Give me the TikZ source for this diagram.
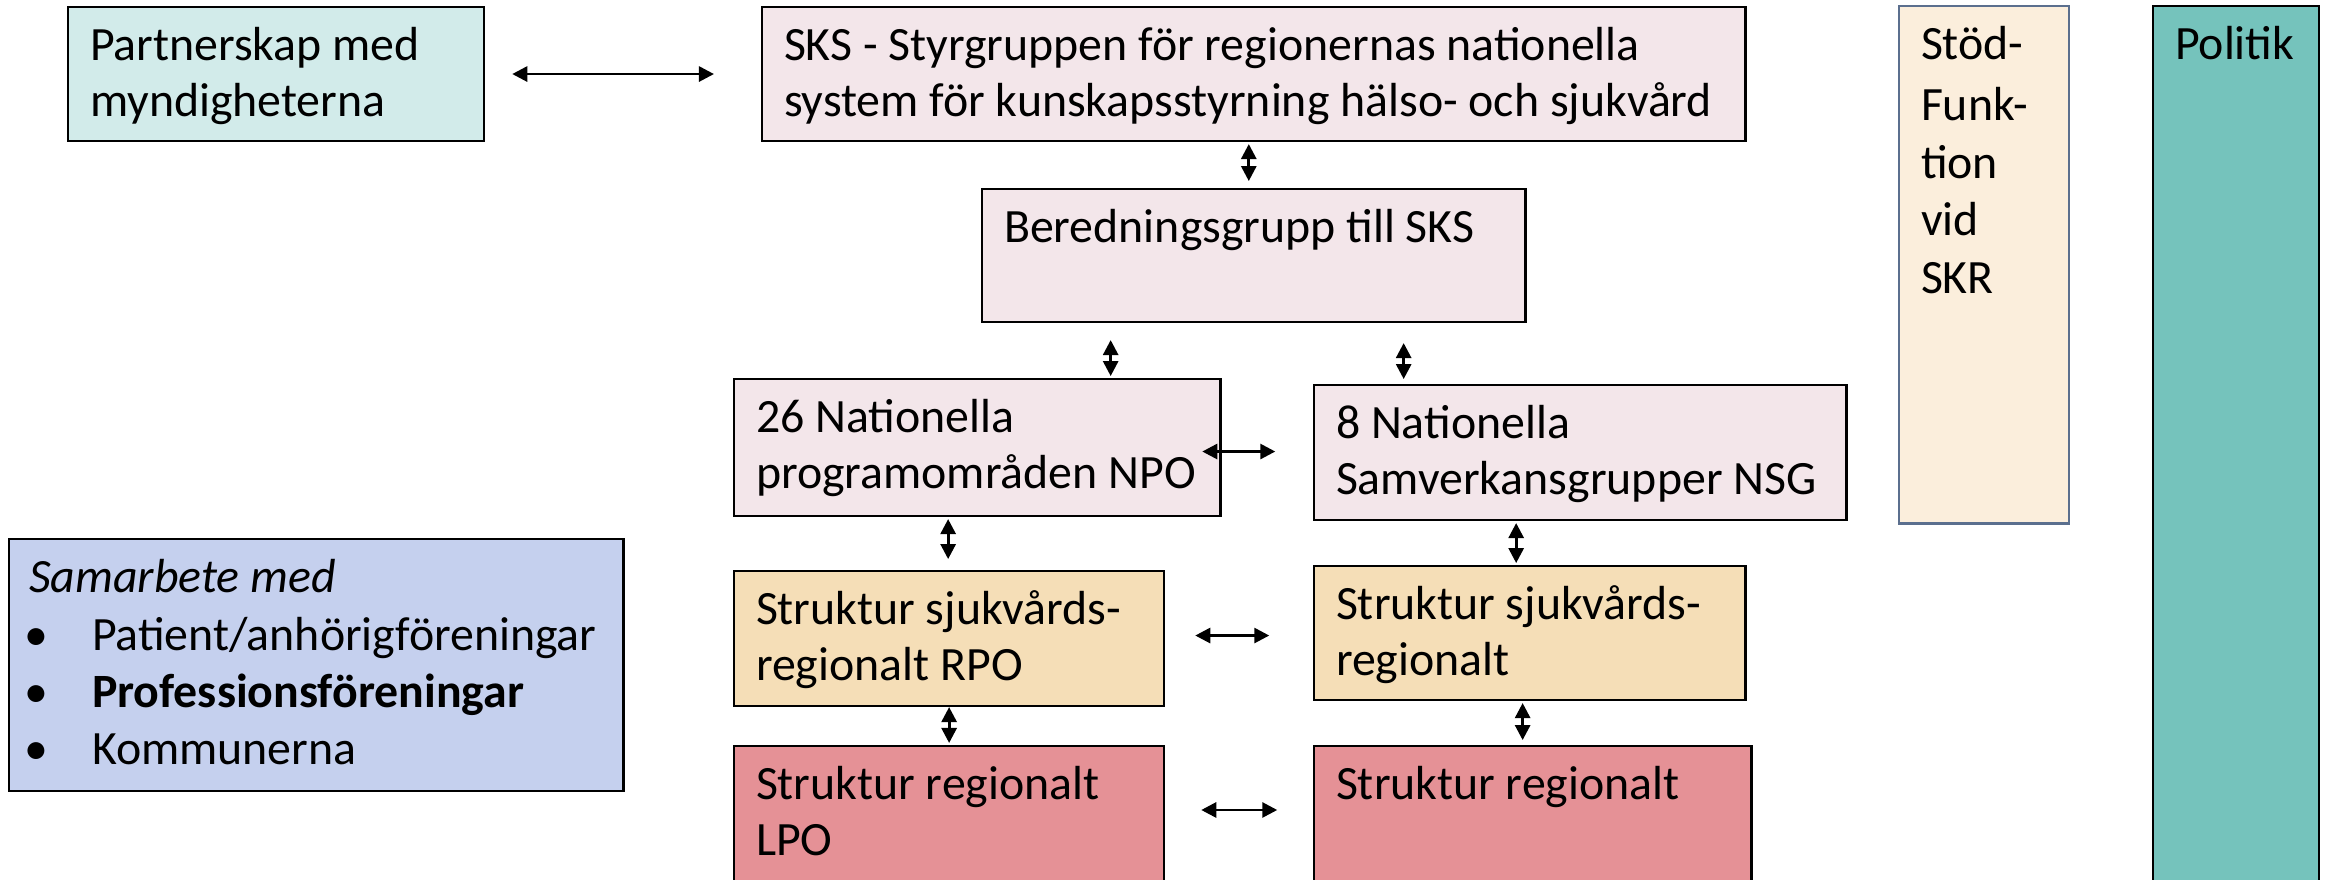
\documentclass[tikz,border=0pt]{standalone}
\usepackage{fontspec}
\setmainfont{Carlito}
\usepackage[svgnames]{xcolor}
\usetikzlibrary{arrows.meta}

\definecolor{partnerteal}{HTML}{D2EBEA}
\definecolor{skspink}{HTML}{F3E6EA}
\definecolor{rpobeige}{HTML}{F5DEB7}
\definecolor{lpored}{HTML}{E59196}
\definecolor{stodcream}{HTML}{FBEEDC}
\definecolor{stodedge}{HTML}{5B6F8E}
\definecolor{politikteal}{HTML}{75C3BC}
\definecolor{samblue}{HTML}{C5D0EE}

\newcommand{\boxtext}[3]{\parbox[t][#2][t]{#1}{\raggedright\strut#3}}
\newcommand{\bulletitem}{\makebox[0.63cm][l]{\hspace{-0.05cm}\textbullet}}

\begin{document}
\begin{tikzpicture}[x=0.01cm, y=-0.01cm,
  every node/.style={font=\fontsize{13.6}{15.8}\selectfont},
  orgbox/.style={draw=black, line width=0.7pt, anchor=north west, inner xsep=0.22cm, inner ysep=0.15cm, outer sep=0pt},
  dbl/.style={{Triangle[length=0.15cm,width=0.15cm]}-{Triangle[length=0.15cm,width=0.15cm]}, line width=0.8pt}]
\useasboundingbox (0,0) rectangle (2330,880);
\clip (0,0) rectangle (2330,880);
\node[orgbox, fill=partnerteal] (partner) at (68,7) {\boxtext{3.72cm}{1.04cm}{Partnerskap med\\myndigheterna}};
\node[orgbox, fill=skspink] (sks) at (762,7) {\boxtext{9.39cm}{1.04cm}{SKS - Styrgruppen för regionernas nationella\\system för kunskapsstyrning hälso- och sjukvård}};
\node[orgbox, fill=skspink] (bered) at (982,189) {\boxtext{4.99cm}{1.03cm}{Beredningsgrupp till SKS}};
\node[orgbox, fill=skspink] (npo) at (734,379) {\boxtext{4.42cm}{1.07cm}{26 Nationella\\programområden NPO}};
\node[orgbox, fill=skspink] (nsg) at (1314,385) {\boxtext{4.88cm}{1.05cm}{8 Nationella\\Samverkansgrupper NSG}};
\node[orgbox, fill=rpobeige] (rpo) at (734,571) {\boxtext{3.86cm}{1.05cm}{Struktur sjukvårds-\\regionalt RPO}};
\node[orgbox, fill=rpobeige] (sjr) at (1314,566) {\boxtext{3.87cm}{1.04cm}{Struktur sjukvårds-\\regionalt}};
\node[orgbox, fill=lpored] (lpo) at (734,746) {\boxtext{3.86cm}{1.70cm}{Struktur regionalt\\LPO}};
\node[orgbox, fill=lpored] (reg) at (1314,746) {\boxtext{3.93cm}{1.70cm}{Struktur regionalt}};
\node[orgbox, draw=stodedge, fill=stodcream] (stod) at (1899,6) {\boxtext{1.26cm}{4.87cm}{\fontsize{13.6}{16.4}\selectfont\vspace{0.03cm}Stöd-\\Funk-\\tion\\vid\\SKR}};
\node[orgbox, fill=politikteal] (politik) at (2153,6) {\boxtext{1.22cm}{9cm}{Politik}};
\node[orgbox, fill=samblue, inner xsep=0.2cm] (samarbete) at (9,539) {\boxtext{5.74cm}{2.22cm}{\fontsize{13.6}{16.3}\selectfont\textit{Samarbete med}\\\bulletitem Patient/anhörigföreningar\\\bulletitem\textbf{Professionsföreningar}\\\bulletitem Kommunerna}};
\draw[dbl, shorten <=0.28cm, shorten >=0.48cm] (partner.east) -- (sks.west);
\draw[dbl] ([shift={(-5,3)}]sks.south) -- ++(0,37);
\draw[dbl] ([shift={(-143,18)}]bered.south) -- ++(0,36);
\draw[dbl] ([shift={(150,21)}]bered.south) -- ++(0,36);
\draw[dbl] ([shift={(-18,4)}]npo.east) -- ++(73,0);
\draw[dbl] ([shift={(-29,3)}]npo.south) -- ++(0,40);
\draw[dbl] ([shift={(-64,3)}]nsg.south) -- ++(0,40);
\draw[dbl] ([shift={(31,-3)}]rpo.east) -- ++(74,0);
\draw[dbl, shorten <=0.01cm, shorten >=0.03cm] (rpo.south) -- (lpo.north);
\draw[dbl] ([shift={(-7,3)}]sjr.south) -- ++(0,37);
\draw[dbl] ([shift={(37,64)}]lpo.north east) -- ++(76,0);
\end{tikzpicture}
\end{document}
